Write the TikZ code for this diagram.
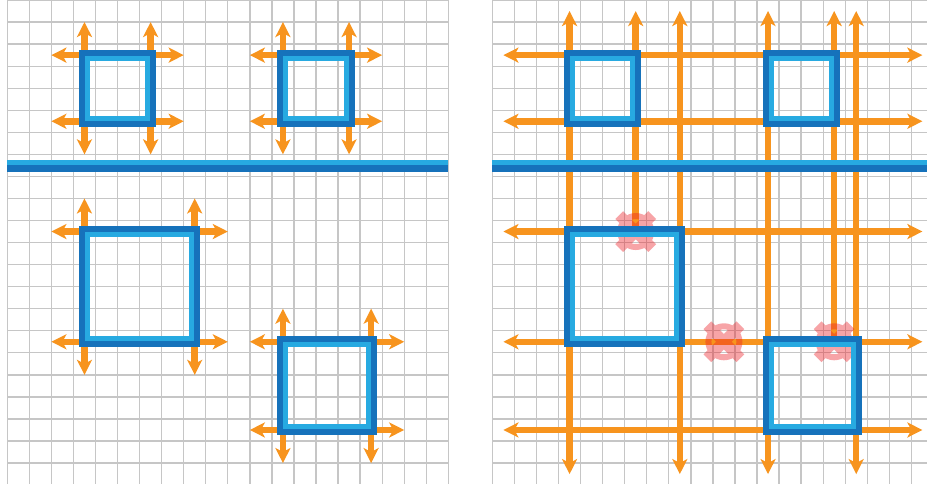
\documentclass[tikz,border=0pt]{standalone}
\usetikzlibrary{arrows.meta}
\definecolor{gridgray}{RGB}{198,198,198}
\definecolor{arrorange}{RGB}{247,148,30}
\definecolor{boxdark}{RGB}{22,114,187}
\definecolor{boxlight}{RGB}{39,170,225}
\definecolor{hitred}{RGB}{237,28,36}
\tikzset{
  gridline/.style={draw=gridgray,line width=1.3pt},
  flow/.style={draw=arrorange,line width=6.5pt},
  outarrow/.style={flow,-{Stealth[length=15pt,width=15pt,inset=4pt]}},
  biarrow/.style={flow,{Stealth[length=15pt,width=15pt,inset=4pt]}-{Stealth[length=15pt,width=15pt,inset=4pt]}},
  topstop/.style={flow,{Stealth[length=15pt,width=15pt,inset=4pt]}-},
  pics/clash/.style={code={
    \begin{scope}[transparency group,opacity=0.4]
      \draw[hitred,line width=6pt] (0,0) circle[radius=15.5pt];
      \draw[hitred,line width=11pt] (-16.5pt,-16.5pt) -- (16.5pt,16.5pt) (-16.5pt,16.5pt) -- (16.5pt,-16.5pt);
    \end{scope}}},
}
\newcommand{\routebox}[2]{%
  \draw[boxdark,line width=11pt] (#1) rectangle (#2);
  \draw[boxlight,line width=5pt] ([shift={(3pt,-3pt)}]#1) rectangle ([shift={(-3pt,3pt)}]#2);}
\newcommand{\cornerarrows}[4]{% x1 y1 x2 y2
  \draw[outarrow] (#1,#2) -- (#1-1.5,#2);
  \draw[outarrow] (#1,#2) -- (#1,#2-1.5);
  \draw[outarrow] (#3,#2) -- (#3+1.5,#2);
  \draw[outarrow] (#3,#2) -- (#3,#2-1.5);
  \draw[outarrow] (#1,#4) -- (#1-1.5,#4);
  \draw[outarrow] (#1,#4) -- (#1,#4+1.5);
  \draw[outarrow] (#3,#4) -- (#3+1.5,#4);
  \draw[outarrow] (#3,#4) -- (#3,#4+1.5);}
\begin{document}
\begin{tikzpicture}[x=22.05pt,y=-22.05pt]
\useasboundingbox (-0.331,0) rectangle (41.71,21.95);
\fill[white] (-0.331,0) rectangle (41.71,21.95);
% grids
\foreach \i in {0,...,20} \draw[gridline] (\i,0) -- (\i,21.95);
\foreach \j in {0,...,21} \draw[gridline] (0,\j) -- (20,\j);
\foreach \i in {22,...,41} \draw[gridline] (\i,0) -- (\i,21.95);
\foreach \j in {0,...,21} \draw[gridline] (22,\j) -- (41.71,\j);
% box corners
\coordinate (a1) at (3.5,2.5);   \coordinate (a2) at (6.5,5.5);
\coordinate (b1) at (12.5,2.5);  \coordinate (b2) at (15.5,5.5);
\coordinate (c1) at (3.5,10.5);  \coordinate (c2) at (8.5,15.5);
\coordinate (d1) at (12.5,15.5); \coordinate (d2) at (16.5,19.5);
\coordinate (ra1) at (25.5,2.5);  \coordinate (ra2) at (28.5,5.5);
\coordinate (rb1) at (34.5,2.5);  \coordinate (rb2) at (37.5,5.5);
\coordinate (rc1) at (25.5,10.5); \coordinate (rc2) at (30.5,15.5);
\coordinate (rd1) at (34.5,15.5); \coordinate (rd2) at (38.5,19.5);
% left panel arrows
\cornerarrows{3.5}{2.5}{6.5}{5.5}
\cornerarrows{12.5}{2.5}{15.5}{5.5}
\cornerarrows{3.5}{10.5}{8.5}{15.5}
\cornerarrows{12.5}{15.5}{16.5}{19.5}
% right panel lines
\foreach \y in {2.5,5.5,10.5,15.5,19.5} \draw[biarrow] (22.5,\y) -- (41.5,\y);
\foreach \x in {25.5,30.5,34.5,38.5} \draw[biarrow] (\x,0.5) -- (\x,21.5);
\coordinate (s1) at (28.5,10.5);
\coordinate (s2) at (37.5,15.5);
\coordinate (s3) at (32.5,15.5);
\draw[topstop] (28.5,0.5) -- (s1);
\draw[topstop] (37.5,0.5) -- (s2);
% collision markers
\pic at (s1) {clash};
\pic at (s3) {clash};
\pic at (s2) {clash};
% boxes
\routebox{a1}{a2}
\routebox{b1}{b2}
\routebox{c1}{c2}
\routebox{d1}{d2}
\routebox{ra1}{ra2}
\routebox{rb1}{rb2}
\routebox{rc1}{rc2}
\routebox{rd1}{rd2}
% dividing bars
\fill[boxlight] (0,7.25) rectangle (20,7.5);
\fill[boxdark] (0,7.5) rectangle (20,7.78);
\fill[boxlight] (22,7.25) rectangle (41.71,7.5);
\fill[boxdark] (22,7.5) rectangle (41.71,7.78);
\end{tikzpicture}
\end{document}
